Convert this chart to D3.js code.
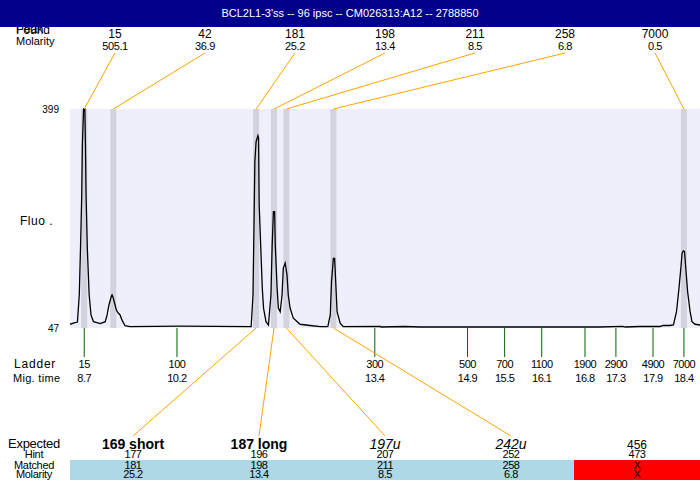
<!DOCTYPE html>
<meta charset="utf-8">
<style>
    body { margin: 0; background: #ffffff; }
    svg { display: block; }
    text {
        font-family: "Liberation Sans", Arial, sans-serif;
        font-size: 11px;
        fill: #000000;
    }
</style>
<svg width="700" height="480"></svg>
<script src="https://d3js.org/d3.v7.min.js"></script>
<script>

    var title = "BCL2L1-3'ss -- 96 ipsc -- CM026313:A12 -- 2788850";

    // peaks found in the sample
    var peakSizes = [15, 42, 181, 198, 211, 258, 7000];
    var peakMolarity = [505.1, 36.9, 25.2, 13.4, 8.5, 6.8, 0.5];
    var peakTimes = [8.70, 9.17, 11.48, 11.77, 11.97, 12.73, 18.40];

    // ladder
    var ladderSizes = [15, 100, 300, 500, 700, 1100, 1900, 2900, 4900, 7000];
    var ladderTimes = [8.7, 10.2, 13.4, 14.9, 15.5, 16.1, 16.8, 17.3, 17.9, 18.4];

    // expected products
    var expectedLabels = ["169 short", "187 long", "197u", "242u", "456"];
    var hintSizes = [177, 196, 207, 252, 473];
    var matchedSizes = ["181", "198", "211", "258", "X"];
    var matchedMolarity = ["25.2", "13.4", "8.5", "6.8", "X"];

    // fluorescence range
    var fluoTicks = [47, 399];

    // electropherogram trace (migration time, fluorescence)
    var traceTime = [
        8.47, 8.55, 8.59, 8.62, 8.64, 8.66, 8.67, 8.69, 8.71, 8.72, 8.73, 8.75, 8.78, 8.81, 8.85,
        8.96, 9.04, 9.07, 9.10, 9.14, 9.15, 9.17, 9.19, 9.22, 9.25, 9.28, 9.31, 9.36, 9.44, 10.25,
        11.38, 11.40, 11.43, 11.45, 11.46, 11.48, 11.51, 11.52, 11.53, 11.56, 11.58, 11.60, 11.64,
        11.68, 11.72, 11.74, 11.76, 11.78, 11.79, 11.82, 11.84, 11.87, 11.90, 11.92, 11.95, 11.98,
        12.00, 12.03, 12.08, 12.19, 12.35, 12.52, 12.64, 12.68, 12.70, 12.73, 12.75, 12.77, 12.79,
        12.84, 12.89,
        13.49, 13.50, 13.89, 14.13, 17.04, 17.41, 17.45, 17.69, 18.01, 18.06, 18.17,
        18.23, 18.28, 18.32, 18.35, 18.37, 18.39, 18.41, 18.43, 18.46, 18.50, 18.53, 18.58, 18.66];
    var traceFluo = [
        53, 55.5, 56.6, 100, 175.6, 260.8, 341, 399, 399, 341, 260.8, 175.6, 100, 67.9, 57.1,
        54.2, 57.1, 68, 84, 98.4, 100, 95.2, 87.2, 75.9, 71, 68, 60, 50.7, 49.1, 49.9,
        49.1, 49.1, 100, 239.9, 314.3, 346.4, 356.1, 352.4, 244.7, 164.3, 111.3, 79.1, 57.1,
        51.8, 100, 180.4, 233.9, 233.9, 180.4, 111.3, 79.1, 73.2, 100, 143.4, 151.5, 132.2,
        100, 79.1, 63.1, 53, 51, 49.1, 49.1, 67.9, 121.4, 159, 159, 116.1, 73.2,
        54.6, 49.1,
        49.4, 48.6, 49.4, 48.6, 48.6, 49.7, 48.6, 49.4, 49.4, 51, 51,
        51.8, 73.2, 110.8, 143, 167.1, 170.8, 169.6, 143, 105.3, 73.2, 57.1, 53, 51.8];

    var svg = d3.select("svg"),
        width = +svg.attr("width"),
        height = +svg.attr("height");

    var plot = {left: 70, right: 700, top: 109, bottom: 328};

    var x = d3.scaleLinear()
        .domain(d3.extent(traceTime))
        .range([plot.left, plot.right]);

    var y = d3.scaleLinear()
        .domain(d3.extent(fluoTicks))
        .range([plot.bottom, plot.top]);

    var peakCol = d3.scaleBand()
        .domain(d3.range(peakSizes.length))
        .range([plot.left, plot.right]);

    var expCol = d3.scaleBand()
        .domain(d3.range(expectedLabels.length))
        .range([plot.left, plot.right]);

    function colMid(scale, i) {
        return scale(i) + scale.bandwidth() / 2;
    }

    // ---- header rows (drawn first, title bar overlaps them)
    svg.append("text").attr("x", 16).attr("y", 34).style("font-size", "12px").text("Found");
    svg.append("text").attr("x", 16).attr("y", 33).style("font-size", "12px").text("Peak");
    svg.append("text").attr("x", 16).attr("y", 45).text("Molarity");

    svg.append("g").selectAll("text")
        .data(peakSizes)
        .enter().append("text")
        .attr("x", function (d, i) { return colMid(peakCol, i); })
        .attr("y", 38)
        .attr("text-anchor", "middle")
        .style("font-size", "12px")
        .text(function (d) { return d; });

    svg.append("g").selectAll("text")
        .data(peakMolarity)
        .enter().append("text")
        .attr("x", function (d, i) { return colMid(peakCol, i); })
        .attr("y", 50)
        .attr("text-anchor", "middle")
        .style("letter-spacing", "-0.4px")
        .text(function (d) { return d; });

    // ---- title bar
    svg.append("rect")
        .attr("x", 0).attr("y", 0)
        .attr("width", width).attr("height", 27)
        .attr("fill", "#00008b");
    svg.append("text")
        .attr("x", width / 2).attr("y", 17)
        .attr("text-anchor", "middle")
        .style("fill", "#ffffff")
        .text(title);

    // ---- plot area
    svg.append("rect")
        .attr("x", plot.left).attr("y", plot.top)
        .attr("width", plot.right - plot.left)
        .attr("height", plot.bottom - plot.top)
        .attr("fill", "#efeffb");

    svg.append("g").selectAll("rect")
        .data(peakTimes)
        .enter().append("rect")
        .attr("x", function (d) { return x(d) - 3; })
        .attr("y", plot.top)
        .attr("width", 6)
        .attr("height", plot.bottom - plot.top)
        .attr("fill", "#d3d3e0");

    svg.append("defs").append("clipPath").attr("id", "clip")
        .append("rect")
        .attr("x", plot.left).attr("y", plot.top - 2)
        .attr("width", plot.right - plot.left)
        .attr("height", plot.bottom - plot.top + 2);

    var line = d3.line()
        .x(function (d) { return x(d[0]); })
        .y(function (d) { return y(d[1]); });

    svg.append("path")
        .datum(d3.zip(traceTime, traceFluo))
        .attr("clip-path", "url(#clip)")
        .attr("fill", "none")
        .attr("stroke", "#000000")
        .attr("stroke-width", 1.3)
        .attr("d", line);

    // y labels
    svg.append("g").selectAll("text")
        .data(fluoTicks)
        .enter().append("text")
        .attr("x", 59)
        .attr("y", function (d) { return y(d) + 4; })
        .attr("text-anchor", "end")
        .style("font-size", "10px")
        .text(function (d) { return d; });

    svg.append("text")
        .attr("x", 20).attr("y", 225)
        .style("font-size", "12px")
        .style("letter-spacing", "0.5px")
        .text("Fluo .");

    // peak -> header connectors
    svg.append("g").selectAll("line")
        .data(peakTimes)
        .enter().append("line")
        .attr("x1", function (d, i) { return colMid(peakCol, i); })
        .attr("y1", 53)
        .attr("x2", function (d) { return x(d); })
        .attr("y2", plot.top)
        .attr("stroke", "orange")
        .attr("stroke-width", 1);

    // ---- ladder
    svg.append("g").selectAll("line")
        .data(ladderTimes)
        .enter().append("line")
        .attr("x1", function (d) { return x(d); })
        .attr("x2", function (d) { return x(d); })
        .attr("y1", plot.bottom)
        .attr("y2", 357)
        .attr("stroke", "#006400")
        .attr("stroke-width", 1);

    svg.append("g").selectAll("text")
        .data(ladderSizes)
        .enter().append("text")
        .attr("x", function (d, i) { return x(ladderTimes[i]); })
        .attr("y", 368)
        .attr("text-anchor", "middle")
        .style("letter-spacing", "-0.5px")
        .text(function (d) { return d; });

    svg.append("g").selectAll("text")
        .data(ladderTimes)
        .enter().append("text")
        .attr("x", function (d) { return x(d); })
        .attr("y", 382)
        .attr("text-anchor", "middle")
        .style("letter-spacing", "-0.5px")
        .text(function (d) { return d.toFixed(1); });

    svg.append("text").attr("x", 14).attr("y", 368)
        .style("font-size", "12px").style("letter-spacing", "0.8px").text("Ladder");
    svg.append("text").attr("x", 13).attr("y", 382)
        .style("letter-spacing", "0.3px").text("Mig. time");

    // ---- expected / matched table
    var rowLabels = [["Expected", 448, "13px"], ["Hint", 458, "11px"], ["Matched", 469, "11px"], ["Molarity", 478, "11px"]];
    svg.append("g").selectAll("text")
        .data(rowLabels)
        .enter().append("text")
        .attr("x", 34)
        .attr("y", function (d) { return d[1]; })
        .attr("text-anchor", "middle")
        .style("font-size", function (d) { return d[2]; })
        .style("letter-spacing", "-0.3px")
        .text(function (d) { return d[0]; });

    svg.append("g").selectAll("rect")
        .data(matchedSizes)
        .enter().append("rect")
        .attr("x", function (d, i) { return expCol(i); })
        .attr("y", 460)
        .attr("width", expCol.bandwidth())
        .attr("height", 20)
        .attr("fill", function (d) { return d === "X" ? "#ff0000" : "#add8e6"; });

    // matched peak -> expected connectors
    svg.append("g").selectAll("line")
        .data(matchedSizes.filter(function (d) { return d !== "X"; }))
        .enter().append("line")
        .attr("x1", function (d) { return x(peakTimes[peakSizes.indexOf(+d)]); })
        .attr("y1", plot.bottom)
        .attr("x2", function (d) { return colMid(expCol, matchedSizes.indexOf(d)); })
        .attr("y2", 436)
        .attr("stroke", "orange")
        .attr("stroke-width", 1);

    svg.append("g").selectAll("text")
        .data(expectedLabels)
        .enter().append("text")
        .attr("x", function (d, i) { return colMid(expCol, i); })
        .attr("y", 449)
        .attr("text-anchor", "middle")
        .style("font-size", function (d) { return /short|long|u$/.test(d) ? "14px" : "12px"; })
        .style("font-weight", function (d) { return /short|long/.test(d) ? "bold" : "normal"; })
        .style("font-style", function (d) { return /u$/.test(d) ? "italic" : "normal"; })
        .text(function (d) { return d; });

    var rows = [[hintSizes, 458], [matchedSizes, 469], [matchedMolarity, 478]];
    rows.forEach(function (r) {
        svg.append("g").selectAll("text")
            .data(r[0])
            .enter().append("text")
            .attr("x", function (d, i) { return colMid(expCol, i); })
            .attr("y", r[1])
            .attr("text-anchor", "middle")
            .style("letter-spacing", "-0.5px")
            .text(function (d) { return d; });
    });

</script>
